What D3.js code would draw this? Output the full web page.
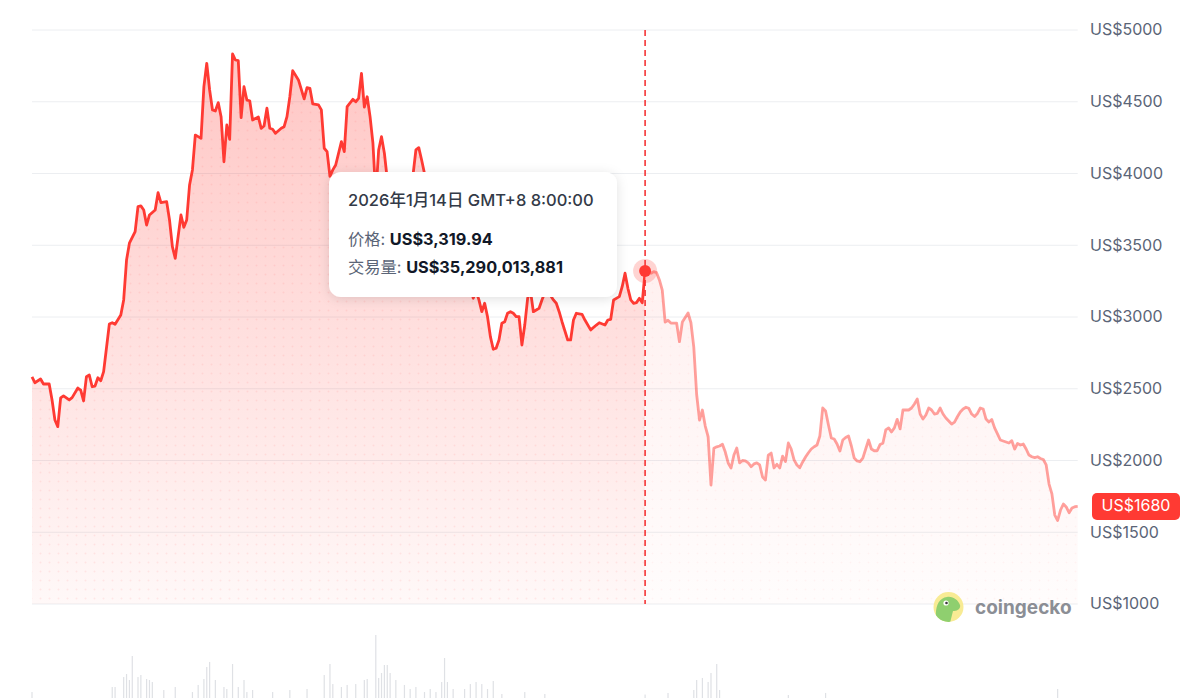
<!DOCTYPE html>
<html><head><meta charset="utf-8">
<script src="https://cdn.jsdelivr.net/npm/d3@7"></script>
<style>html,body{margin:0;padding:0;background:#fff;overflow:hidden}svg{display:block}</style>
</head><body><svg id="chart" width="1200" height="698"></svg>
<script>
// ---------------- DATA ----------------
const startDate = "2025-06-14";
const endDayOffset = 365;
// day offsets from startDate
const priceDays = [0,1,3,4,6,7,8,9,10,11,13,14,16,17,18,19,20,21,22,23,24,25,27,28,29,31,32,33,34,36,37,38,39,40,41,43,44,45,47,48,49,50,51,52,53,54,55,56,57,58,59,60,61,62,63,64,65,66,67,68,69,70,71,72,73,74,75,76,77,79,80,81,82,83,84,85,87,88,89,90,91,93,95,96,97,98,100,101,102,103,104,105,106,108,109,110,112,113,114,115,116,117,118,119,120,121,122,123,124,125,126,127,128,129,130,131,132,133,134,135,136,137,138,139,140,141,142,143,144,145,146,147,148,149,150,151,152,153,154,155,156,157,158,159,160,161,162,163,164,165,166,167,168,169,170,171,172,173,174,175,177,178,179,180,181,182,183,184,185,187,188,189,190,192,193,195,197,198,200,201,202,203,205,206,207,208,209,210,211,212,213,214,216,217,218,219,220,221,222,223,225,226,227,229,230,231,232,233,234,235,236,237,238,239,240,241,242,243,244,245,246,247,248,249,250,251,252,253,254,255,256,257,258,259,260,261,262,263,264,265,266,267,268,269,270,271,272,273,274,275,276,277,278,279,280,281,282,283,284,285,286,287,288,289,290,291,292,293,294,295,296,297,298,299,300,301,302,303,304,305,306,307,308,309,310,311,312,313,314,315,316,317,318,319,320,321,322,323,324,325,326,327,328,329,330,331,332,333,334,335,336,337,338,339,340,341,342,343,344,345,346,347,348,349,350,351,352,353,354,355,356,357,358,359,360,361,362,363,364,365];
const prices = [2582,2542,2568,2533,2533,2422,2282,2236,2436,2450,2422,2438,2505,2491,2415,2584,2596,2514,2519,2577,2556,2619,2951,2960,2949,3014,3119,3397,3514,3595,3769,3774,3746,3641,3711,3746,3866,3797,3804,3676,3490,3409,3560,3711,3625,3676,3920,4025,4268,4257,4245,4605,4768,4582,4443,4436,4494,4396,4082,4338,4238,4833,4791,4786,4389,4605,4512,4507,4373,4394,4315,4331,4455,4315,4308,4280,4315,4326,4396,4535,4717,4652,4520,4598,4594,4485,4478,4443,4176,4152,3980,4025,4059,4222,4152,4466,4517,4500,4524,4698,4462,4535,4396,4211,3843,4164,4257,4141,3960,3930,3980,3920,3830,3900,3880,3930,3960,3990,4164,4180,4094,4000,3850,3830,3860,3880,3600,3300,3400,3300,3420,3470,3600,3550,3420,3400,3500,3230,3130,3180,3119,3037,3096,3002,2863,2775,2782,2840,2956,2967,3026,3037,3026,3002,3002,2805,2944,3130,3180,3037,3061,3119,3170,3200,3150,3119,3096,3037,2967,2840,2840,2979,3026,3019,2979,2910,2944,2960,2944,2979,2984,3119,3142,3211,3305,3200,3119,3095,3100,3130,3099,3319.94,3305,3316,3309,3258,3188,2965,2977,2958,2958,2828,2965,3028,2960,2790,2460,2282,2352,2240,2166,1829,2085,2095,2101,2113,2059,1983,1948,2038,2087,1983,2000,1997,1983,1957,1976,1983,1969,1885,1864,2038,2052,1948,1974,1948,2031,1992,2122,2080,2004,1969,1950,1990,2024,2054,2080,2096,2108,2171,2366,2345,2247,2157,2150,2115,2066,2143,2160,2171,2101,2017,1997,1992,2017,2080,2143,2080,2068,2068,2111,2120,2213,2227,2199,2227,2287,2220,2352,2352,2352,2366,2394,2428,2324,2289,2317,2366,2352,2324,2328,2366,2324,2296,2275,2254,2268,2305,2338,2359,2371,2364,2324,2307,2328,2366,2359,2289,2268,2286,2227,2185,2143,2136,2129,2122,2138,2080,2119,2108,2115,2080,2038,2026,2020,2026,2014,2007,1969,1836,1767,1620,1582,1655,1697,1676,1636,1669,1678,1680];
// trading volume (billions USD) on the days whose bars are visible
const volumeDays = [0,28,29,32,33,34,35,37,38,40,41,42,46,50,56,58,60,61,62,64,67,68,70,72,74,75,77,84,90,96,102,104,105,108,110,113,116,117,120,121,122,123,124,125,127,130,132,134,137,139,141,143,144,145,147,151,153,155,157,159,161,164,172,179,214,222,231,232,234,236,237,239,240,264,277,358];
const volumes = [38.0,43.5,43.5,54.3,57.6,51.1,77.2,54.3,56.5,52.2,51.1,48.9,40.2,43.5,38.0,45.7,52.2,65.2,70.7,51.1,43.5,41.3,68.5,43.5,51.1,38.0,40.2,38.0,40.2,41.3,56.5,68.5,46.7,43.5,45.7,46.7,51.1,52.2,100.0,53.3,58.7,67.4,67.4,58.7,51.1,45.7,41.3,43.5,38.0,41.3,38.0,48.9,75.0,48.9,41.3,41.3,46.7,48.9,46.7,41.3,50.0,35.9,38.0,35.9,35.29,37.0,40.2,51.1,53.3,48.9,58.7,68.5,40.2,34.8,37.0,41.3];
const yTicks = [1000,1500,2000,2500,3000,3500,4000,4500,5000];
const hoverDay = 214;            // 2026-01-14
const hoverVolumeFull = "US$35,290,013,881";
const tooltipTitle = "2026年1月14日 GMT+8 8:00:00";
const priceLabel = "价格: ";
const volumeLabel = "交易量: ";
const currentPrice = 1680;

// ---------------- CHART ----------------
const svg = d3.select("#chart");
const W = 1200, H = 698;
const start = new Date(startDate + "T00:00:00Z");
const dateOf = d => d3.utcDay.offset(start, d);
const data = priceDays.map((d, i) => ({date: dateOf(d), v: prices[i], d}));

const x = d3.scaleUtc().domain([start, dateOf(endDayOffset)]).range([32, 1077.7]);
const y = d3.scaleLinear().domain([1000, 5000]).range([604, 30]);
const yVol = d3.scaleLinear().domain([0, 100]).range([727, 635]);

const RED = "#ff3a33";
const FONT = "Inter, 'Noto Sans CJK SC', sans-serif";
const hx = x(dateOf(hoverDay));
const hoverPt = data.find(p => p.d === hoverDay);

const defs = svg.append("defs");
const grad = defs.append("linearGradient").attr("id", "areaGrad")
  .attr("gradientUnits", "userSpaceOnUse").attr("x1", 0).attr("x2", 0).attr("y1", y(5000)).attr("y2", y(1000));
grad.append("stop").attr("offset", 0).attr("stop-color", RED).attr("stop-opacity", 0.30);
grad.append("stop").attr("offset", 1).attr("stop-color", RED).attr("stop-opacity", 0.035);
const pat = defs.append("pattern").attr("id", "dots").attr("patternUnits", "userSpaceOnUse")
  .attr("width", 9).attr("height", 9);
pat.append("circle").attr("cx", 4.5).attr("cy", 4.5).attr("r", 1).attr("fill", RED).attr("fill-opacity", 0.09);
defs.append("clipPath").attr("id", "clipL").append("rect").attr("x", 0).attr("y", 0).attr("width", hx).attr("height", H);
defs.append("clipPath").attr("id", "clipR").append("rect").attr("x", hx).attr("y", 0).attr("width", W - hx).attr("height", H);
const sh = defs.append("filter").attr("id", "shadow").attr("x", "-20%").attr("y", "-30%").attr("width", "140%").attr("height", "160%");
sh.append("feDropShadow").attr("dx", 0).attr("dy", 2).attr("stdDeviation", 6).attr("flood-color", "#000").attr("flood-opacity", 0.12);
defs.append("clipPath").attr("id", "logoClip").append("circle").attr("cx", 948.5).attr("cy", 607).attr("r", 15);

// gridlines
svg.append("g").selectAll("line").data(yTicks).join("line")
  .attr("x1", 32).attr("x2", 1077.7).attr("y1", d => y(d)).attr("y2", d => y(d))
  .attr("stroke", "#eceef1").attr("stroke-width", 1);

// volume bars
svg.append("g").selectAll("rect").data(volumeDays.map((d, i) => ({date: dateOf(d), v: volumes[i]}))).join("rect")
  .attr("x", d => x(d.date) - 0.6).attr("width", 1.2)
  .attr("y", d => yVol(d.v)).attr("height", d => yVol(0) - yVol(d.v))
  .attr("fill", "#dfe1e5");

const area = d3.area().x(d => x(d.date)).y0(y(1000)).y1(d => y(d.v));
const line = d3.line().x(d => x(d.date)).y(d => y(d.v));

// areas
svg.append("path").datum(data).attr("d", area).attr("fill", "url(#areaGrad)").attr("clip-path", "url(#clipL)");
svg.append("path").datum(data).attr("d", area).attr("fill", "url(#dots)").attr("clip-path", "url(#clipL)");
svg.append("path").datum(data).attr("d", area).attr("fill", "url(#areaGrad)").attr("fill-opacity", 0.4).attr("clip-path", "url(#clipR)");
svg.append("path").datum(data).attr("d", area).attr("fill", "url(#dots)").attr("fill-opacity", 0.5).attr("clip-path", "url(#clipR)");

// lines
svg.append("path").datum(data).attr("d", line).attr("fill", "none").attr("stroke", RED)
  .attr("stroke-width", 2.8).attr("stroke-linejoin", "round").attr("clip-path", "url(#clipL)");
svg.append("path").datum(data).attr("d", line).attr("fill", "none").attr("stroke", RED).attr("stroke-opacity", 0.48)
  .attr("stroke-width", 2.8).attr("stroke-linejoin", "round").attr("clip-path", "url(#clipR)");

// hover crosshair & point
svg.append("line").attr("x1", hx).attr("x2", hx).attr("y1", y(5000)).attr("y2", y(1000))
  .attr("stroke", "#f4282a").attr("stroke-width", 1.5).attr("stroke-dasharray", "6,4");
svg.append("circle").attr("cx", hx).attr("cy", y(hoverPt.v)).attr("r", 12).attr("fill", RED).attr("fill-opacity", 0.22);
svg.append("circle").attr("cx", hx).attr("cy", y(hoverPt.v)).attr("r", 6).attr("fill", RED);

// y axis labels
svg.append("g").selectAll("text").data(yTicks).join("text")
  .attr("x", 1090).attr("y", d => y(d) + 1).attr("dominant-baseline", "middle")
  .attr("font-family", FONT).attr("font-size", 16).attr("fill", "#5b6577")
  .text(d => "US$" + d);

// current price badge
const by = y(currentPrice);
svg.append("rect").attr("x", 1092).attr("y", by - 13.5).attr("width", 88).attr("height", 27).attr("rx", 5).attr("fill", RED);
svg.append("text").attr("x", 1136).attr("y", by + 0.5).attr("text-anchor", "middle").attr("dominant-baseline", "middle")
  .attr("font-family", FONT).attr("font-size", 16).attr("fill", "#fff").text("US$" + currentPrice);

// tooltip
const tt = svg.append("g");
tt.append("rect").attr("x", 329).attr("y", 172).attr("width", 288).attr("height", 125).attr("rx", 12)
  .attr("fill", "#fff").attr("filter", "url(#shadow)");
tt.append("text").attr("x", 348).attr("y", 206).attr("font-family", FONT).attr("font-size", 16.5)
  .attr("font-weight", 500).attr("fill", "#333a47").text(tooltipTitle);
const fmtPrice = d3.format(",.2f");
const t1 = tt.append("text").attr("x", 348).attr("y", 245).attr("font-family", FONT).attr("font-size", 16.3);
t1.append("tspan").attr("fill", "#5b6577").text(priceLabel);
t1.append("tspan").attr("fill", "#111827").attr("font-weight", 700).text("US$" + fmtPrice(hoverPt.v));
const t2 = tt.append("text").attr("x", 348).attr("y", 273).attr("font-family", FONT).attr("font-size", 16.3);
t2.append("tspan").attr("fill", "#5b6577").text(volumeLabel);
t2.append("tspan").attr("fill", "#111827").attr("font-weight", 700).text(hoverVolumeFull);

// coingecko logo
const lg = svg.append("g");
lg.append("circle").attr("cx", 948.5).attr("cy", 607).attr("r", 15).attr("fill", "#f8eb94");
lg.append("path").attr("clip-path", "url(#logoClip)")
  .attr("d", "M936,618 C935,606 939,598 947,597 C953,596 958,600 960,605 C961,609 957,611 953,611 C952,615 951,619 950,623 C944,624 938,622 936,618 Z")
  .attr("fill", "#8fcf6f");
lg.append("circle").attr("cx", 946).attr("cy", 603).attr("r", 2.6).attr("fill", "#fff");
lg.append("circle").attr("cx", 946.5).attr("cy", 603).attr("r", 1.3).attr("fill", "#3a3a3a");
lg.append("text").attr("x", 975).attr("y", 614).attr("font-family", FONT).attr("font-size", 19)
  .attr("font-weight", 700).attr("fill", "#8b8e95").text("coingecko");
</script></body></html>
